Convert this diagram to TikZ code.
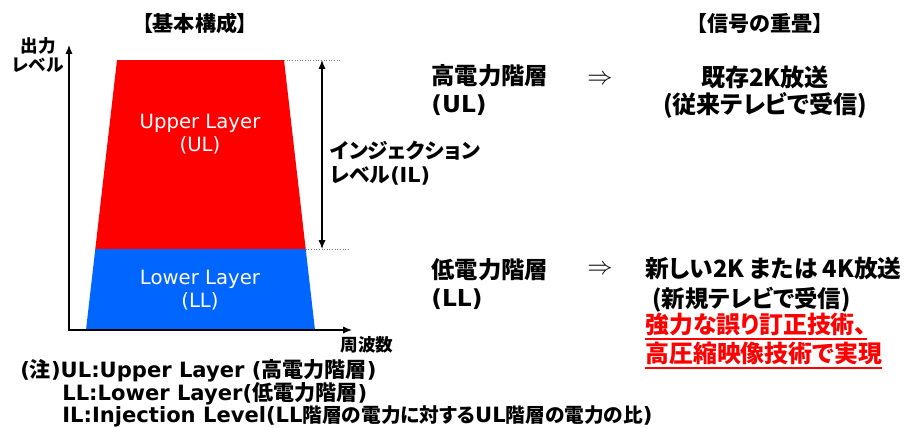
\documentclass[tikz,border=0pt]{standalone}
\usepackage{fontspec}
\setmainfont{DejaVu Sans}
\newfontfamily\jp{Noto Sans CJK JP}[RawFeature=+palt]
\usetikzlibrary{arrows.meta}
\definecolor{ulred}{RGB}{255,0,0}
\definecolor{llblue}{RGB}{0,102,255}
\newcommand{\lat}[1]{{\rmfamily#1}}
\newcommand{\redul}[1]{\setbox0\hbox{#1}\rlap{\rule[-4pt]{\wd0}{1.1pt}}\box0}

\begin{document}
\begin{tikzpicture}[x=0.02cm, y=-0.02cm,
    ttl/.style={font=\jp\bfseries\fontsize{12}{14}\selectfont, inner sep=0pt},
    axtxt/.style={font=\jp\bfseries\fontsize{10}{11.3}\selectfont, inner sep=0pt, align=center},
    lyrtxt/.style={font=\rmfamily\fontsize{11.2}{13}\selectfont, text=white, inner sep=0pt, align=center},
    jptxt/.style={font=\jp\bfseries\fontsize{13.3}{15.6}\selectfont, inner sep=0pt},
    redtxt/.style={font=\jp\bfseries\fontsize{13.6}{14.7}\selectfont, text=ulred, inner sep=0pt, align=left},
    notetxt/.style={font=\jp\bfseries\fontsize{12}{12}\selectfont, inner sep=0pt, anchor=west},
    impl/.style={font=\fontsize{13.6}{14}\selectfont, inner sep=0pt},
    axis/.style={line width=0.7pt, {Latex[length=5pt,width=4pt]}-{Latex[length=5pt,width=4pt]}},
    dotline/.style={gray, densely dotted, line width=0.5pt}]
\useasboundingbox (0,0) rectangle (908,427);

% layers
\fill[ulred] (117,60) -- (284,60) -- (305.7,249) -- (95.3,249) -- cycle;
\fill[llblue] (95.3,249) -- (305.7,249) -- (315,330) -- (86,330) -- cycle;
\node[lyrtxt] (ultxt) at (200,134) {Upper Layer\\(UL)};
\node[lyrtxt] (lltxt) at (200,290) {Lower Layer\\(LL)};

% axes
\coordinate (ytop) at (69,45);
\coordinate (org) at (69,330);
\coordinate (xend) at (352,330);
\draw[axis] (ytop) -- (org) -- (xend);
\node[axtxt] (ylab) at (38,55) {出力\\レベル};
\node[axtxt] (xlab) at (367,345) {周波数};

% injection level
\coordinate (ultop) at (284,60);
\coordinate (ulend) at (340,60);
\coordinate (llbnd) at (305.7,249);
\coordinate (llend) at (350,249);
\coordinate (iltop) at (322,60);
\coordinate (ilbot) at (322,249);
\draw[dotline] (ultop) -- (ulend);
\draw[dotline] (llbnd) -- (llend);
\draw[axis] (iltop) -- (ilbot);
\node[jptxt, anchor=west, align=left, font=\jp\bfseries\fontsize{11.8}{13.6}\selectfont] (iltxt) at (330,163) {インジェクション\\レベル\lat{(IL)}};

\node[ttl] (kihon) at (195,23) {【基本構成】};
\node[ttl] (shingo) at (760,23) {【信号の重畳】};

% upper
\node[jptxt, anchor=west, align=left] (ulname) at (431,90) {高電力階層\\\lat{(UL)}};
\node[impl] (imp1) at (600,80) {$\Rightarrow$};
\node[jptxt, align=center, font=\jp\bfseries\fontsize{13.7}{15.3}\selectfont] (kizon) at (765,92) {既存2K放送\\(従来テレビで受信)};

% lower
\node[jptxt, anchor=west, align=left] (llname) at (431,284) {低電力階層\\\lat{(LL)}};
\node[impl] (imp2) at (600,270) {$\Rightarrow$};
\node[jptxt, anchor=west, font=\jp\bfseries\fontsize{13.5}{15}\selectfont] (shin) at (645,268) {新しい2K または 4K放送};
\node[jptxt, anchor=west, font=\jp\bfseries\fontsize{13.3}{14}\selectfont] (shinki) at (652,300) {(新規テレビで受信)};
\node[redtxt, anchor=west] (tech) at (645,341) {\redul{強力な誤り訂正技術、}\\\redul{高圧縮映像技術で実現}};

% notes
\node[notetxt] (n1) at (20,371) {\lat{(}注\lat{)UL:Upper Layer (}高電力階層\lat{)}};
\node[notetxt] (n2) at (62,394) {\lat{LL:Lower Layer(}低電力階層\lat{)}};
\node[notetxt] (n3) at (62,416) {\lat{IL:Injection Level(LL}{\fontsize{11.2}{12}\selectfont 階層の電力に対する}\lat{UL}{\fontsize{11.2}{12}\selectfont 階層の電力の比}\lat{)}};
\end{tikzpicture}
\end{document}
